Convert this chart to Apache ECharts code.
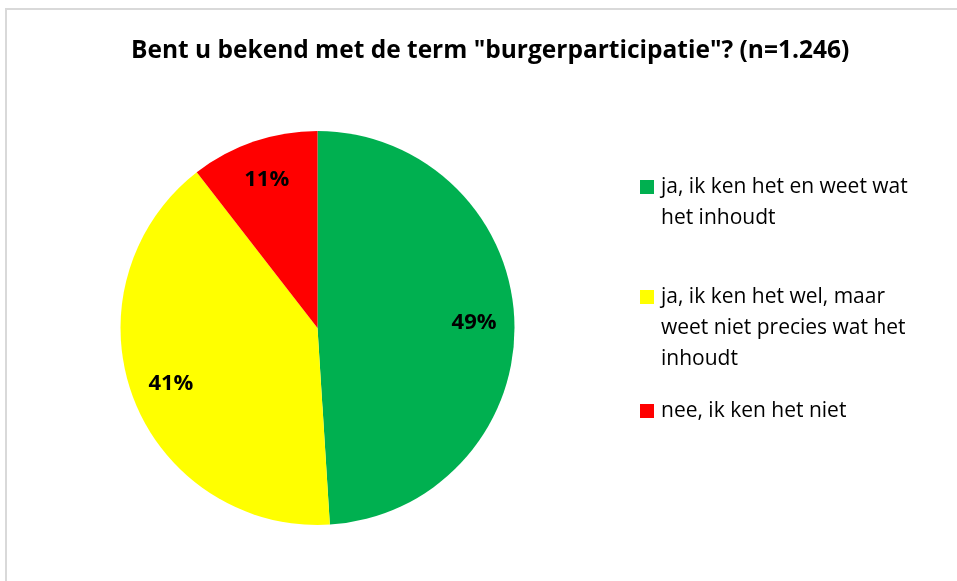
<!DOCTYPE html>
<html>
<head>
<meta charset="UTF-8">
<title>burgerparticipatie</title>
<script src="https://cdn.jsdelivr.net/npm/echarts@6/dist/echarts.min.js"></script>
<style>
  html, body { margin: 0; padding: 0; background: #fff; }
  #container { width: 957px; height: 581px; }
</style>
</head>
<body>
<div id="container"></div>
<script>
// data (share of n=1.246)
var categories = [
  'ja, ik ken het en weet wat het inhoudt',
  'ja, ik ken het wel, maar weet niet precies wat het inhoudt',
  'nee, ik ken het niet'
];
var legendLines = [
  ['ja, ik ken het en weet wat', 'het inhoudt'],
  ['ja, ik ken het wel, maar', 'weet niet precies wat het', 'inhoudt'],
  ['nee, ik ken het niet']
];
var values = [49.0, 40.5, 10.5];
var colors = ['#00b050', '#ffff00', '#ff0000'];

var font = '"Open Sans", "DejaVu Sans", sans-serif';
var R = 197;
var lh = 31;
var legendFirstLine = [182, 292, 406];   // centre of first text line of each item

var pieData = categories.map(function (c, i) {
  return { name: c, value: values[i], itemStyle: { color: colors[i] } };
});

// square marker on the first line, spacer on the following lines
var rich = {
  t: { fontFamily: font, fontSize: 21, color: '#000', lineHeight: lh },
  s: { width: 21, height: 14 }
};
colors.forEach(function (col, i) {
  rich['b' + i] = { width: 14, height: 14, backgroundColor: col };
  rich['g' + i] = { width: 7, height: 14 };
});

var legends = categories.map(function (c, i) {
  return {
    orient: 'vertical',
    left: 630,
    top: legendFirstLine[i] - lh / 2,
    icon: 'none',
    itemWidth: 0,
    itemHeight: 14,
    selectedMode: false,
    data: [c],
    formatter: function () {
      return legendLines[i].map(function (line, k) {
        return (k === 0 ? '{b' + i + '|}{g' + i + '|}' : '{s|}') + '{t|' + line + '}';
      }).join('\n');
    },
    textStyle: { lineHeight: lh, rich: rich }
  };
});

var myChart = echarts.init(document.getElementById('container'));
var option = {
  backgroundColor: '#fff',
  animation: false,
  title: {
    text: 'Bent u bekend met de term "burgerparticipatie"? (n=1.246)',
    left: 126,
    top: 34,
    textStyle: { fontFamily: font, fontSize: 24.5, fontWeight: 'bold', color: '#000' }
  },
  legend: legends,
  graphic: [{
    type: 'rect',
    shape: { x: 6, y: 9, width: 1000, height: 700 },
    style: { fill: 'none', stroke: '#d9d9d9', lineWidth: 2 },
    silent: true
  }],
  series: [
    {
      type: 'pie',
      center: [317.5, 328],
      radius: [0, R],
      startAngle: 90,
      clockwise: true,
      label: { show: false },
      labelLine: { show: false },
      emphasis: { disabled: true },
      data: pieData
    },
    {
      // transparent copy: its inside labels land near 0.8 of the visible radius
      type: 'pie',
      center: [317.5, 328],
      radius: [0, R * 1.56],
      startAngle: 90,
      clockwise: true,
      silent: true,
      itemStyle: { color: 'rgba(0,0,0,0)' },
      label: {
        show: true,
        position: 'inside',
        fontFamily: font,
        fontSize: 22,
        fontWeight: 'bold',
        color: '#000',
        formatter: function (p) { return Math.round(p.value) + '%'; }
      },
      labelLine: { show: false },
      emphasis: { disabled: true },
      data: categories.map(function (c, i) { return { name: c, value: values[i] }; })
    }
  ]
};
myChart.setOption(option);
</script>
</body>
</html>
